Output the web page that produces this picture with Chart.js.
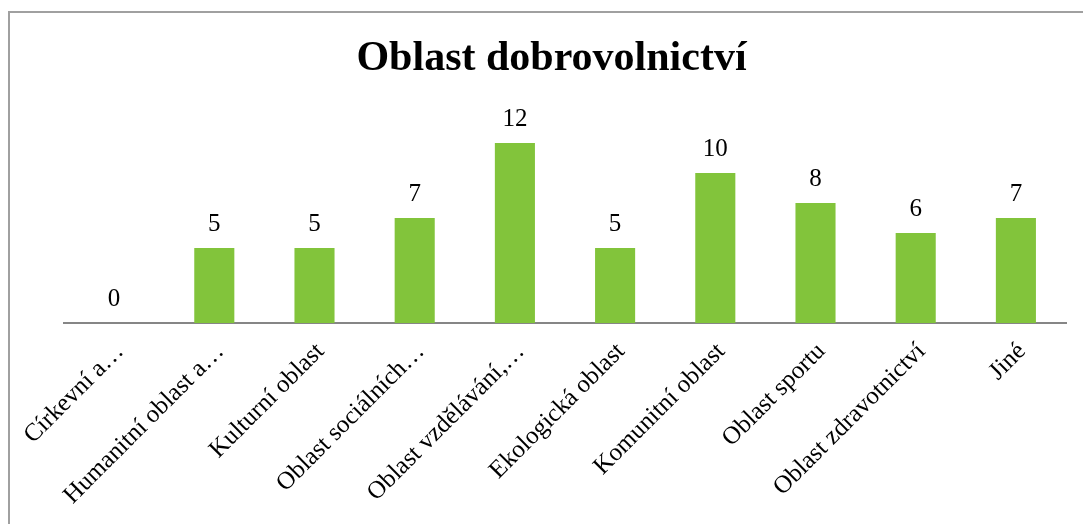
<!DOCTYPE html>
<html>
<head>
<meta charset="utf-8">
<script src="https://cdn.jsdelivr.net/npm/chart.js@4"></script>
<style>
  html, body { margin: 0; padding: 0; background: #fff; overflow: hidden; }
  #frame {
    position: absolute; left: 8px; top: 11px; width: 1200px; height: 600px;
    border-left: 2px solid #a0a0a0; border-top: 2px solid #a0a0a0;
  }
  #wrap { position: absolute; left: 0; top: 0; width: 1083px; height: 524px; }
</style>
</head>
<body>
<div id="frame"></div>
<div id="wrap"><canvas id="chart"></canvas></div>
<script>
  // Chart data
  const categories = ['Církevní a…', 'Humanitní oblast a…', 'Kulturní oblast', 'Oblast sociálních…',
    'Oblast vzdělávání,…', 'Ekologická oblast', 'Komunitní oblast', 'Oblast sportu',
    'Oblast zdravotnictví', 'Jiné'];
  const counts = [0, 5, 5, 7, 12, 5, 10, 8, 6, 7];
  const titleText = 'Oblast dobrovolnictví';

  const serif = "'Liberation Serif', 'Times New Roman', serif";

  // values above the bars + title centred on the whole frame
  const valueLabels = {
    id: 'valueLabels',
    afterDatasetsDraw(chart) {
      const ctx = chart.ctx;
      const meta = chart.getDatasetMeta(0);
      ctx.save();
      ctx.font = '25px ' + serif;
      ctx.fillStyle = '#000';
      ctx.textAlign = 'center';
      ctx.textBaseline = 'alphabetic';
      meta.data.forEach((bar, i) => {
        ctx.fillText(String(counts[i]), bar.x, bar.y - 17);
      });

      const tb = chart.titleBlock;
      ctx.font = 'bold 42px ' + serif;
      ctx.textBaseline = 'middle';
      ctx.fillText(titleText, chart.width / 2 + 10, (tb.top + tb.bottom) / 2 + 3);
      ctx.restore();
    }
  };

  const ctx = document.getElementById('chart').getContext('2d');
  const chart = new Chart(ctx, {
    type: 'bar',
    data: {
      labels: categories,
      datasets: [{
        data: counts,
        backgroundColor: '#82C43B',
        borderWidth: 0,
        barPercentage: 0.4,
        categoryPercentage: 1
      }]
    },
    options: {
      responsive: true,
      maintainAspectRatio: false,
      animation: false,
      layout: { padding: { left: 64, right: 17, top: 0, bottom: 0 } },
      plugins: {
        legend: { display: false },
        tooltip: { enabled: false },
        // title only reserves the space, text is drawn by valueLabels
        title: {
          display: true,
          text: titleText,
          color: 'rgba(0,0,0,0)',
          font: { family: serif, size: 42, weight: 'bold' },
          padding: { top: 35, bottom: 27.6 }
        }
      },
      scales: {
        x: {
          grid: { display: false },
          border: { display: true, color: '#868686', width: 2 },
          ticks: {
            color: '#000',
            font: { family: serif, size: 25 },
            minRotation: 45,
            maxRotation: 45,
            autoSkip: false,
            padding: 6,
            labelOffset: 6
          },
          afterFit: s => { s.height = 201; }
        },
        y: {
          display: false,
          min: 0,
          max: 14
        }
      }
    },
    plugins: [valueLabels]
  });
</script>
</body>
</html>
